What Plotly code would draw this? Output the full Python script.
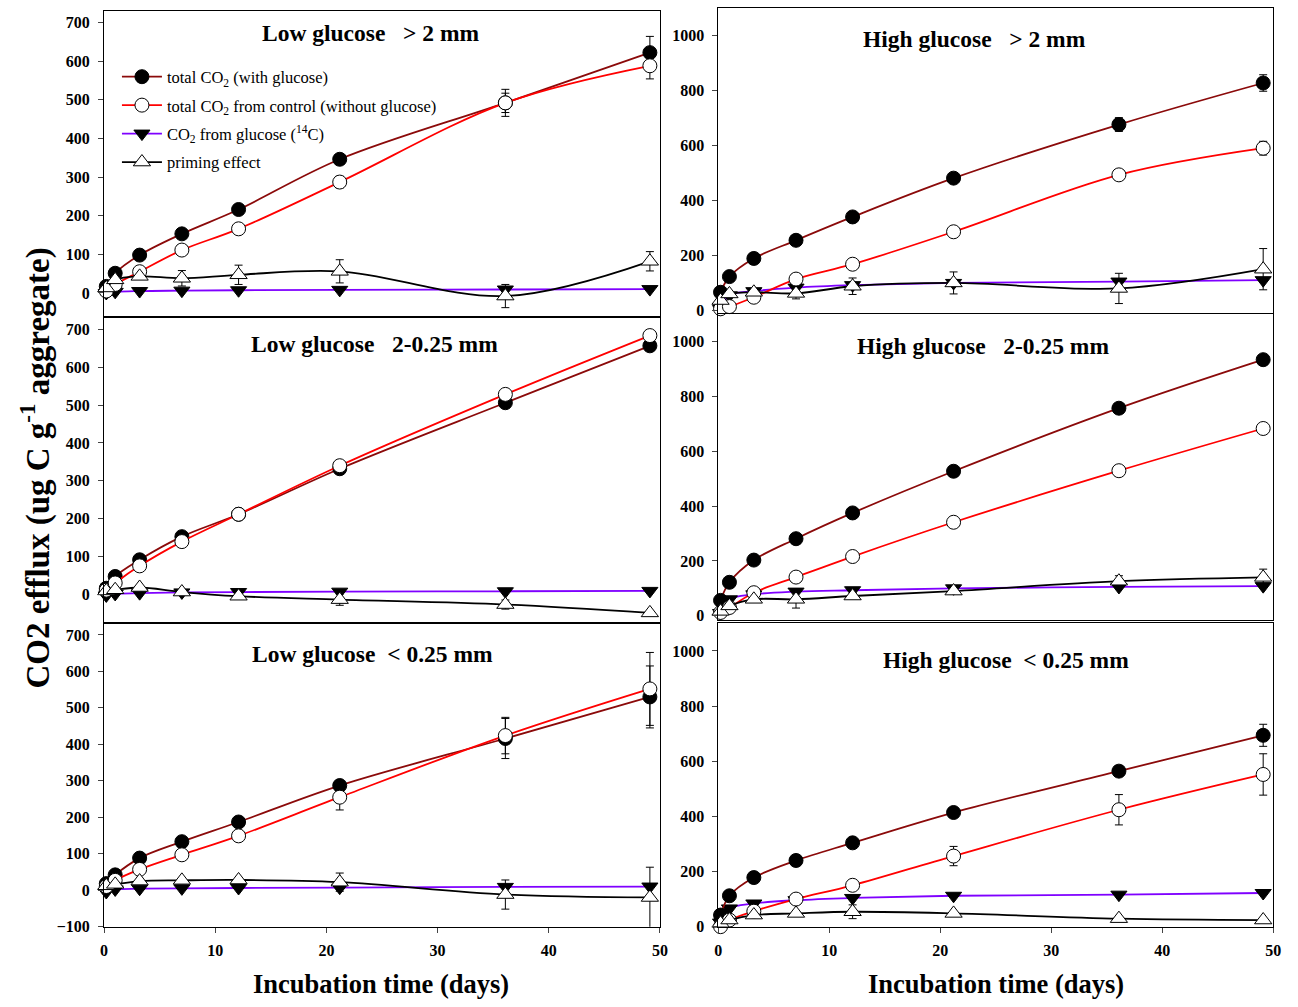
import plotly.graph_objects as go

# ---------------- data ----------------
days = [0.2, 1, 3.2, 7, 12.1, 21.2, 36.1, 49.1]

series_names = ["total CO<sub>2</sub> (with glucose)",
                "total CO<sub>2</sub> from control (without glucose)",
                "CO<sub>2</sub> from glucose (<sup>14</sup>C)",
                "priming effect"]

panel_titles = ["Low glucose\u00a0\u00a0\u00a0> 2 mm",
                "High glucose\u00a0\u00a0\u00a0> 2 mm",
                "Low glucose\u00a0\u00a0\u00a02-0.25 mm",
                "High glucose\u00a0\u00a0\u00a02-0.25 mm",
                "Low glucose\u00a0\u00a0&lt; 0.25 mm",
                "High glucose\u00a0\u00a0&lt; 0.25 mm"]

# Low glucose > 2 mm
low_gt2_total = [17, 51, 98, 153, 216, 346, 492, 622]
low_gt2_control = [5, 22, 55, 111, 166, 287, 492, 588]
low_gt2_glucose = [0, 3, 5, 6, 7, 8, 9, 10]
low_gt2_priming = [13, 34, 43, 38, 47, 56, -8, 82]
low_gt2_total_err = [0, 0, 0, 0, 8, 12, 25, 42]
low_gt2_control_err = [0, 0, 0, 0, 10, 15, 35, 34]
low_gt2_glucose_err = [0, 0, 0, 0, 0, 0, 0, 0]
low_gt2_priming_err = [0, 0, 0, 20, 25, 30, 30, 25]

# High glucose > 2 mm
high_gt2_total = [66, 123, 189, 255, 340, 481, 676, 827]
high_gt2_control = [6, 14, 48, 114, 168, 286, 493, 590]
high_gt2_glucose = [5, 55, 70, 83, 92, 100, 105, 110]
high_gt2_priming = [36, 60, 66, 62, 88, 100, 80, 150]
high_gt2_total_err = [0, 0, 0, 0, 0, 15, 25, 30]
high_gt2_control_err = [0, 0, 0, 0, 0, 0, 15, 25]
high_gt2_glucose_err = [0, 0, 0, 0, 0, 0, 0, 0]
high_gt2_priming_err = [0, 0, 0, 20, 30, 40, 55, 75]

# Low glucose 2-0.25 mm
low_mid_total = [17, 48, 92, 153, 212, 332, 506, 656]
low_mid_control = [12, 31, 76, 140, 212, 340, 528, 683]
low_mid_glucose = [-2, 2, 4, 6, 7, 8, 9, 10]
low_mid_priming = [10, 13, 19, 7, -4, -13, -26, -48]
low_mid_total_err = [0, 0, 0, 0, 0, 10, 12, 12]
low_mid_control_err = [0, 0, 0, 0, 0, 0, 0, 0]
low_mid_glucose_err = [0, 0, 0, 0, 0, 0, 0, 0]
low_mid_priming_err = [0, 0, 0, 0, 8, 15, 12, 0]

# High glucose 2-0.25 mm
high_mid_total = [56, 122, 203, 281, 375, 527, 757, 934]
high_mid_control = [12, 30, 84, 141, 216, 341, 529, 683]
high_mid_glucose = [10, 60, 78, 88, 93, 100, 105, 108]
high_mid_priming = [16, 36, 60, 60, 72, 90, 126, 140]
high_mid_total_err = [0, 0, 0, 0, 0, 0, 0, 0]
high_mid_control_err = [0, 0, 0, 0, 0, 0, 0, 0]
high_mid_glucose_err = [0, 0, 0, 0, 0, 0, 0, 0]
high_mid_priming_err = [0, 0, 0, 32, 0, 0, 20, 30]

# Low glucose < 0.25 mm
low_lt_total = [18, 42, 88, 133, 187, 287, 416, 530]
low_lt_control = [10, 27, 57, 97, 149, 255, 424, 552]
low_lt_glucose = [-5, 2, 4, 5, 6, 7, 9, 10]
low_lt_priming = [12, 16, 25, 27, 28, 22, -12, -20]
low_lt_total_err = [0, 0, 0, 0, 0, 0, 55, 85]
low_lt_control_err = [0, 0, 0, 0, 15, 35, 50, 100]
low_lt_glucose_err = [0, 0, 0, 0, 0, 0, 0, 0]
low_lt_priming_err = [0, 0, 0, 0, 0, 25, 40, 83]

# High glucose < 0.25 mm
high_lt_total = [42, 112, 178, 240, 304, 414, 564, 694]
high_lt_control = [0, 24, 56, 100, 150, 256, 424, 552]
high_lt_glucose = [15, 66, 84, 96, 104, 112, 116, 122]
high_lt_priming = [12, 24, 42, 48, 54, 48, 29, 24]
high_lt_total_err = [0, 0, 0, 0, 0, 0, 20, 40]
high_lt_control_err = [0, 0, 0, 0, 0, 35, 55, 75]
high_lt_glucose_err = [0, 0, 0, 0, 0, 0, 0, 0]
high_lt_priming_err = [0, 0, 0, 0, 25, 0, 0, 0]

x_ticks = [0, 10, 20, 30, 40, 50]
left_y_ticks = [-100, 0, 100, 200, 300, 400, 500, 600, 700]
right_y_ticks = [0, 200, 400, 600, 800, 1000]

# ---------------- layout helpers ----------------
W, H = 1298, 1007
panels = [
    dict(vals=(low_gt2_total, low_gt2_control, low_gt2_glucose, low_gt2_priming),
         errs=(low_gt2_total_err, low_gt2_control_err, low_gt2_glucose_err, low_gt2_priming_err),
         xpx=(101, 662), ypx=(11, 319), yrange=[-60, 730], yticks=left_y_ticks,
         tpos=(370, 33), bottom=False),
    dict(vals=(high_gt2_total, high_gt2_control, high_gt2_glucose, high_gt2_priming),
         errs=(high_gt2_total_err, high_gt2_control_err, high_gt2_glucose_err, high_gt2_priming_err),
         xpx=(721, 1281), ypx=(8, 316), yrange=[-10, 1100], yticks=right_y_ticks,
         tpos=(980, 39), bottom=False),
    dict(vals=(low_mid_total, low_mid_control, low_mid_glucose, low_mid_priming),
         errs=(low_mid_total_err, low_mid_control_err, low_mid_glucose_err, low_mid_priming_err),
         xpx=(101, 662), ypx=(321, 628), yrange=[-73, 729], yticks=left_y_ticks,
         tpos=(374, 347), bottom=False),
    dict(vals=(high_mid_total, high_mid_control, high_mid_glucose, high_mid_priming),
         errs=(high_mid_total_err, high_mid_control_err, high_mid_glucose_err, high_mid_priming_err),
         xpx=(721, 1281), ypx=(317, 626), yrange=[-17, 1100], yticks=right_y_ticks,
         tpos=(988, 349), bottom=False),
    dict(vals=(low_lt_total, low_lt_control, low_lt_glucose, low_lt_priming),
         errs=(low_lt_total_err, low_lt_control_err, low_lt_glucose_err, low_lt_priming_err),
         xpx=(101, 662), ypx=(630, 935), yrange=[-100, 729], yticks=left_y_ticks,
         tpos=(372, 660), bottom=True),
    dict(vals=(high_lt_total, high_lt_control, high_lt_glucose, high_lt_priming),
         errs=(high_lt_total_err, high_lt_control_err, high_lt_glucose_err, high_lt_priming_err),
         xpx=(721, 1281), ypx=(629, 935), yrange=[0, 1100], yticks=right_y_ticks,
         tpos=(1011, 666), bottom=True),
]

line_colors = ["#8B0A0A", "#FF0000", "#7F00FF", "#000000"]
marker_styles = [
    dict(symbol="circle", color="black", size=14, line=dict(color="black", width=1)),
    dict(symbol="circle", color="white", size=14, line=dict(color="black", width=1)),
    dict(symbol="triangle-down", color="black", size=14, line=dict(color="black", width=1)),
    dict(symbol="triangle-up", color="white", size=15, line=dict(color="black", width=1)),
]
draw_order = [2, 0, 1, 3]

SERIF = "Liberation Serif, Times New Roman, serif"
fig = go.Figure()
layout = {}
annotations = []

for i, p in enumerate(panels):
    n = i + 1
    xa = "x" if n == 1 else f"x{n}"
    ya = "y" if n == 1 else f"y{n}"
    for k in draw_order:
        fig.add_trace(go.Scatter(
            x=days, y=p["vals"][k],
            mode="lines+markers",
            name=series_names[k],
            line=dict(color=line_colors[k], width=1.8, shape="spline", smoothing=1.0),
            marker=marker_styles[k],
            error_y=dict(type="data", array=p["errs"][k], visible=True,
                         color="black", thickness=1, width=4),
            xaxis=xa, yaxis=ya, cliponaxis=False,
            showlegend=(n == 1), legendrank=k + 1,
            legendgroup=f"g{k}",
        ))
    x0, x1 = p["xpx"]
    yt, yb = p["ypx"]
    layout["xaxis" if n == 1 else f"xaxis{n}"] = dict(
        domain=[x0 / W, x1 / W], range=[0, 50], anchor=ya,
        showline=True, linecolor="black", linewidth=1, mirror=True,
        showgrid=False, zeroline=False,
        tickvals=x_ticks, ticks="outside" if p["bottom"] else "", ticklen=5,
        showticklabels=p["bottom"], ticklabelstandoff=4,
        tickfont=dict(family=SERIF, size=16, color="black", weight=700),
    )
    layout["yaxis" if n == 1 else f"yaxis{n}"] = dict(
        domain=[1 - yb / H, 1 - yt / H], range=p["yrange"], anchor=xa,
        showline=True, linecolor="black", linewidth=1, mirror=True,
        showgrid=False, zeroline=False,
        tickvals=p["yticks"], ticks="outside", ticklen=5, ticklabelstandoff=5,
        tickfont=dict(family=SERIF, size=16, color="black", weight=700),
    )
    annotations.append(dict(
        text=panel_titles[i], x=p["tpos"][0] / W, y=1 - p["tpos"][1] / H,
        xref="paper", yref="paper", showarrow=False, xanchor="center", yanchor="middle",
        font=dict(family=SERIF, size=23.5, color="black", weight=700),
    ))

annotations.append(dict(
    text="CO2 efflux (ug C g<sup>-1</sup> aggregate)", textangle=-90,
    x=32 / W, y=1 - 472 / H, xref="paper", yref="paper", showarrow=False,
    xanchor="center", yanchor="middle",
    font=dict(family=SERIF, size=33, color="black", weight=700),
))
for cx in (381, 1001):
    annotations.append(dict(
        text="Incubation time (days)", x=cx / W, y=1 - 993 / H,
        xref="paper", yref="paper", showarrow=False, xanchor="center", yanchor="middle",
        font=dict(family=SERIF, size=26.5, color="black", weight=700),
    ))

fig.update_layout(
    width=W, height=H, margin=dict(l=0, r=0, t=0, b=0),
    paper_bgcolor="white", plot_bgcolor="white",
    annotations=annotations,
    legend=dict(x=114 / W, y=1 - 60 / H, xanchor="left", yanchor="top",
                bgcolor="rgba(0,0,0,0)", traceorder="grouped", tracegroupgap=4,
                font=dict(family=SERIF, size=16.5, color="black"), itemwidth=40),
    **layout,
)

fig.write_html("out.html")
